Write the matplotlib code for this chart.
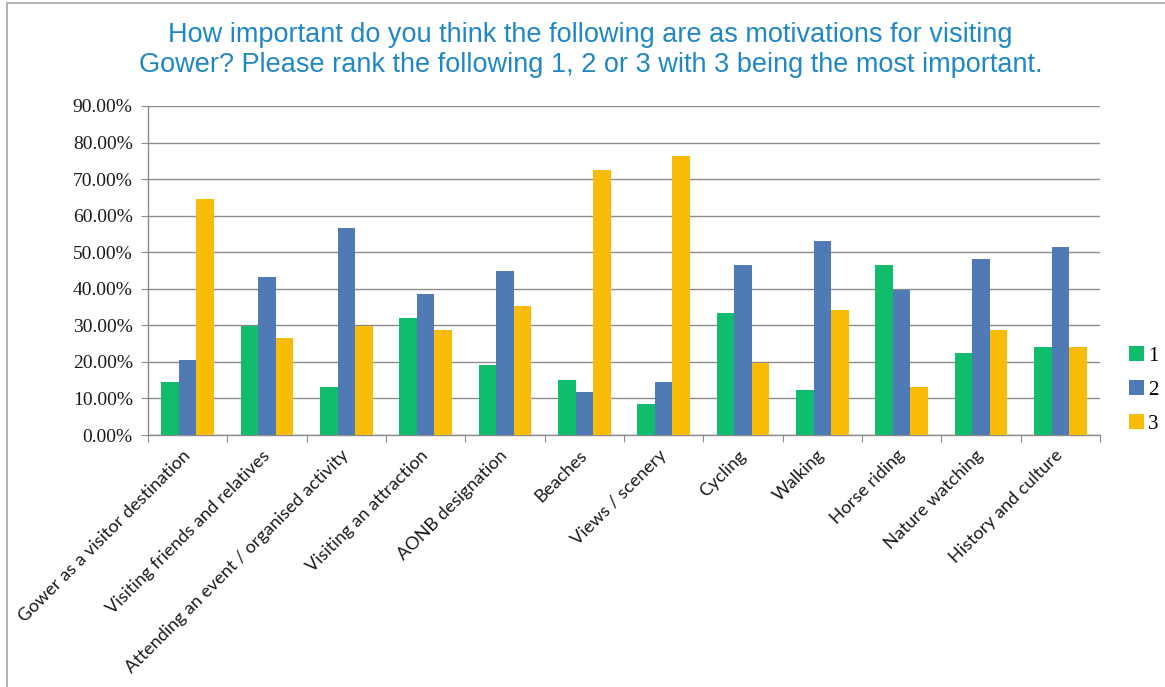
import numpy as np
import matplotlib
matplotlib.use("Agg")
import matplotlib.pyplot as plt
from matplotlib.patches import Rectangle
from matplotlib.ticker import FuncFormatter, FixedLocator

categories = [
    "Gower as a visitor destination",
    "Visiting friends and relatives",
    "Attending an event / organised activity",
    "Visiting an attraction",
    "AONB designation",
    "Beaches",
    "Views / scenery",
    "Cycling",
    "Walking",
    "Horse riding",
    "Nature watching",
    "History and culture",
]
rank_1 = [14.4, 29.9, 13.2, 32.0, 19.2, 15.1, 8.6, 33.3, 12.2, 46.6, 22.4, 24.0]
rank_2 = [20.5, 43.1, 56.5, 38.6, 45.0, 11.8, 14.4, 46.6, 53.0, 39.8, 48.2, 51.5]
rank_3 = [64.5, 26.5, 29.9, 28.8, 35.4, 72.5, 76.4, 19.7, 34.3, 13.2, 28.8, 24.0]
series_names = ["1", "2", "3"]
colors = ["#10BD6C", "#4F7AB6", "#F8BC06"]

title = ("How important do you think the following are as motivations for visiting\n"
         "Gower? Please rank the following 1, 2 or 3 with 3 being the most important.")

W, H = 1165, 687
fig = plt.figure(figsize=(W / 100, H / 100), dpi=100)
fig.patch.set_facecolor("white")

# outer chart frame (only left and top edges fall inside the image)
fig.patches.append(Rectangle((7 / W, -0.1), 1.2, 1 - 3 / H + 0.1,
                             transform=fig.transFigure, fill=False,
                             edgecolor="#A6A6A6", linewidth=1.2))

ax = fig.add_axes([148 / W, 1 - 435 / H, (1100 - 148) / W, (435 - 106) / H])

x = np.arange(len(categories))
bw = 0.22
for i, (vals, name) in enumerate(zip([rank_1, rank_2, rank_3], series_names)):
    ax.bar(x + (i - 1) * bw, vals, width=bw, color=colors[i], label=name, zorder=3)

ax.set_xlim(-0.5, len(categories) - 0.5)
ax.set_ylim(0, 90)
ax.set_yticks(np.arange(0, 91, 10))
ax.yaxis.set_major_formatter(FuncFormatter(lambda v, p: f"{v:.2f}%"))
ax.yaxis.grid(True, color="#8C8C8C", linewidth=1.0, zorder=0)
ax.set_axisbelow(True)

for s in ["top", "right"]:
    ax.spines[s].set_visible(False)
for s in ["left", "bottom"]:
    ax.spines[s].set_color("#8C8C8C")
    ax.spines[s].set_linewidth(1.0)

# category ticks sit on the boundaries, labels at the centres
ax.xaxis.set_major_locator(FixedLocator(np.arange(-0.5, len(categories), 1.0)))
ax.xaxis.set_major_formatter(FuncFormatter(lambda v, p: ""))
ax.tick_params(axis="x", which="major", direction="out", length=5, color="#8C8C8C")
ax.set_xticks(x, minor=True)
ax.set_xticklabels(categories, minor=True, rotation=45, ha="right", va="center",
                   rotation_mode="anchor", fontsize=13, family="Lato", color="#1A1A1A")
ax.tick_params(axis="x", which="minor", length=0, pad=13)

ax.tick_params(axis="y", direction="out", length=5, color="#8C8C8C", pad=6)
for lbl in ax.get_yticklabels():
    lbl.set_family("Liberation Serif")
    lbl.set_fontsize(14)
    lbl.set_color("#1A1A1A")

fig.text(0.5 + 7 / W / 2 + 0.004, 1 - 50 / H, title, ha="center", va="center",
         fontsize=19.5, family="Liberation Sans", color="#1F87C6", linespacing=1.2)

leg = ax.legend(loc="center left", bbox_to_anchor=(1119 / W, 1 - 390 / H),
                bbox_transform=fig.transFigure, frameon=False, borderpad=0,
                prop={"family": "Liberation Serif", "size": 15},
                handlelength=0.7, handleheight=0.7, handletextpad=0.2,
                labelspacing=0.7)

fig.savefig("out.png", dpi=100)
